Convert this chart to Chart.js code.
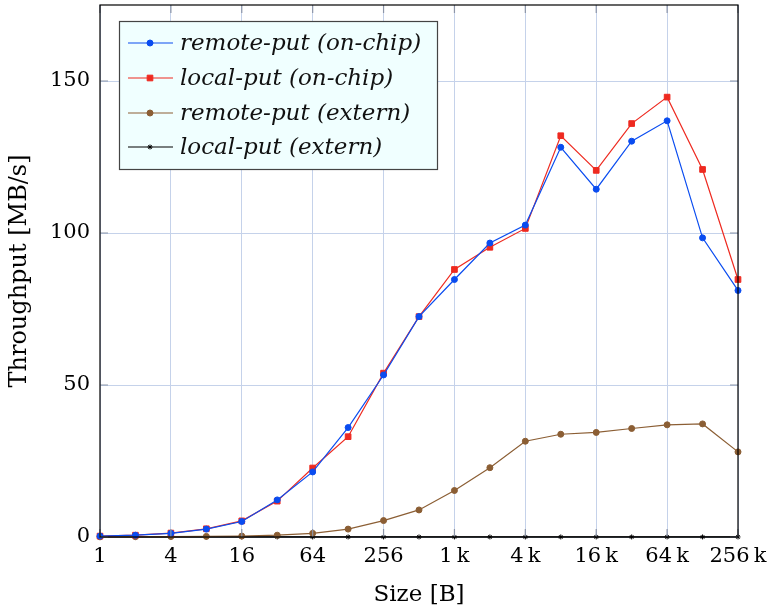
<!DOCTYPE html>
<html>
<head>
<meta charset="utf-8">
<script src="https://cdn.jsdelivr.net/npm/chart.js@4.4.1/dist/chart.umd.min.js"></script>
<style>
  html, body { margin: 0; padding: 0; background: #fff; }
  #wrap { width: 770px; height: 611px; }
</style>
</head>
<body>
<div id="wrap"><canvas id="myChart" width="770" height="611"></canvas></div>
<script>
// message sizes in bytes (2^0 .. 2^18)
const sizes = [1, 2, 4, 8, 16, 32, 64, 128, 256, 512, 1024, 2048, 4096, 8192, 16384, 32768, 65536, 131072, 262144];
const remoteOnChip = [0.3, 0.6, 1.2, 2.6, 5.1, 12.2, 21.4, 36.0, 53.3, 72.5, 84.7, 96.7, 102.6, 128.2, 114.4, 130.2, 136.9, 98.4, 81.1];
const localOnChip = [0.3, 0.6, 1.3, 2.7, 5.3, 11.8, 22.7, 33.0, 53.9, 72.5, 88.0, 95.3, 101.5, 132.0, 120.6, 136.0, 144.7, 120.9, 84.7];
const remoteExtern = [0.05, 0.1, 0.15, 0.2, 0.3, 0.6, 1.2, 2.6, 5.4, 8.9, 15.3, 22.8, 31.5, 33.8, 34.4, 35.7, 36.9, 37.2, 28.0];
const localExtern = [0.02, 0.02, 0.02, 0.02, 0.02, 0.02, 0.02, 0.02, 0.02, 0.02, 0.02, 0.02, 0.02, 0.02, 0.02, 0.02, 0.02, 0.02, 0.02];
const xTicks = [1, 4, 16, 64, 256, 1024, 4096, 16384, 65536, 262144];
const yTicks = [0, 50, 100, 150];

const FONT = "'DejaVu Serif', 'Liberation Serif', serif";
const gridColor = '#c5d2ea';

function pts(arr) {
  return arr.map((v, i) => ({ x: sizes[i], y: v }));
}
function fmtSize(v) {
  if (v >= 1024) return (v / 1024) + '\u2009k';
  return String(v);
}

// legend drawn inside the plot, like the pgfplots box
const boxLegend = {
  id: 'boxLegend',
  afterDatasetsDraw(chart) {
    const ctx = chart.ctx;
    const x0 = 119, y0 = 21, w = 318, h = 148;
    ctx.save();
    ctx.fillStyle = '#f0ffff';
    ctx.fillRect(x0, y0, w, h);
    ctx.strokeStyle = '#444';
    ctx.lineWidth = 1.2;
    ctx.strokeRect(x0 + 0.5, y0 + 0.5, w, h);
    const rows = [43, 78, 113, 147];
    chart.data.datasets.forEach((ds, i) => {
      const y = rows[i];
      ctx.strokeStyle = ds.borderColor;
      ctx.lineWidth = 1.2;
      ctx.beginPath();
      ctx.moveTo(128, y);
      ctx.lineTo(173, y);
      ctx.stroke();
      ctx.fillStyle = ds.pointBackgroundColor;
      ctx.strokeStyle = ds.pointBorderColor;
      ctx.lineWidth = 1;
      Chart.helpers.drawPoint(ctx, {
        pointStyle: ds.pointStyle,
        radius: ds.pointRadius,
        borderWidth: 1
      }, 150, y);
      ctx.fillStyle = '#111';
      ctx.font = "italic 23px " + FONT;
      ctx.textBaseline = 'middle';
      ctx.textAlign = 'left';
      ctx.fillText(ds.label, 180, y + 1);
    });
    ctx.restore();
  }
};

// black frame plus the short inner tick marks on all four sides
const frame = {
  id: 'frame',
  afterDatasetsDraw(chart) {
    const a = chart.chartArea;
    const ctx = chart.ctx;
    const xs = chart.scales.x, ys = chart.scales.y;
    ctx.save();
    ctx.strokeStyle = '#8c95a8';
    ctx.lineWidth = 1.2;
    ctx.beginPath();
    xTicks.forEach(v => {
      const px = xs.getPixelForValue(v);
      ctx.moveTo(px, a.top); ctx.lineTo(px, a.top + 8);
      ctx.moveTo(px, a.bottom); ctx.lineTo(px, a.bottom - 8);
    });
    yTicks.forEach(v => {
      const py = ys.getPixelForValue(v);
      ctx.moveTo(a.left, py); ctx.lineTo(a.left + 8, py);
      ctx.moveTo(a.right, py); ctx.lineTo(a.right - 8, py);
    });
    ctx.stroke();
    ctx.restore();
  },
  afterDraw(chart) {
    const a = chart.chartArea;
    const ctx = chart.ctx;
    ctx.save();
    ctx.strokeStyle = '#000';
    ctx.lineWidth = 1.2;
    ctx.strokeRect(a.left, a.top, a.right - a.left, a.bottom - a.top);
    ctx.restore();
  }
};

function series(label, data, color, style, r) {
  return {
    label,
    data: pts(data),
    borderColor: color,
    backgroundColor: color,
    pointBackgroundColor: color,
    pointBorderColor: color,
    pointStyle: style,
    pointRadius: r,
    pointBorderWidth: 1,
    borderWidth: 1.2,
    tension: 0,
    clip: false
  };
}

const ctx = document.getElementById('myChart').getContext('2d');
const chart = new Chart(ctx, {
  type: 'line',
  data: {
    datasets: [
      series('remote-put (on-chip)', remoteOnChip, '#0a4cf0', 'circle', 3),
      series('local-put (on-chip)', localOnChip, '#ee2a20', 'rect', 4),
      series('remote-put (extern)', remoteExtern, '#8b5e34', 'circle', 3),
      series('local-put (extern)', localExtern, '#000000', 'star', 2.5)
    ]
  },
  options: {
    responsive: false,
    animation: false,
    layout: { padding: { top: 5, right: 32, left: 0, bottom: 0 } },
    plugins: {
      legend: { display: false },
      tooltip: { enabled: false }
    },
    scales: {
      x: {
        type: 'logarithmic',
        min: 1,
        max: 262144,
        afterBuildTicks: s => { s.ticks = xTicks.map(v => ({ value: v })); },
        afterFit: s => { s.height = 74; s.paddingLeft = 0; s.paddingRight = 0; },
        grid: { color: gridColor, drawTicks: false, lineWidth: 1 },
        border: { display: false },
        ticks: {
          color: '#000',
          font: { family: FONT, size: 21 },
          padding: 7,
          maxRotation: 0,
          autoSkip: false,
          callback: v => fmtSize(v)
        },
        title: {
          display: true,
          text: 'Size [B]',
          color: '#000',
          font: { family: FONT, size: 23 },
          padding: { top: 0, bottom: 2 }
        }
      },
      y: {
        min: 0,
        max: 175,
        afterBuildTicks: s => { s.ticks = yTicks.map(v => ({ value: v })); },
        afterFit: s => { s.width = 100; s.paddingTop = 0; s.paddingBottom = 0; },
        grid: { color: gridColor, drawTicks: false, lineWidth: 1 },
        border: { display: false },
        ticks: {
          color: '#000',
          font: { family: FONT, size: 21 },
          padding: 10
        },
        title: {
          display: true,
          text: 'Throughput [MB/s]',
          color: '#000',
          font: { family: FONT, size: 24 },
          padding: { top: 5, bottom: 0 }
        }
      }
    }
  },
  plugins: [boxLegend, frame]
});
</script>
</body>
</html>
